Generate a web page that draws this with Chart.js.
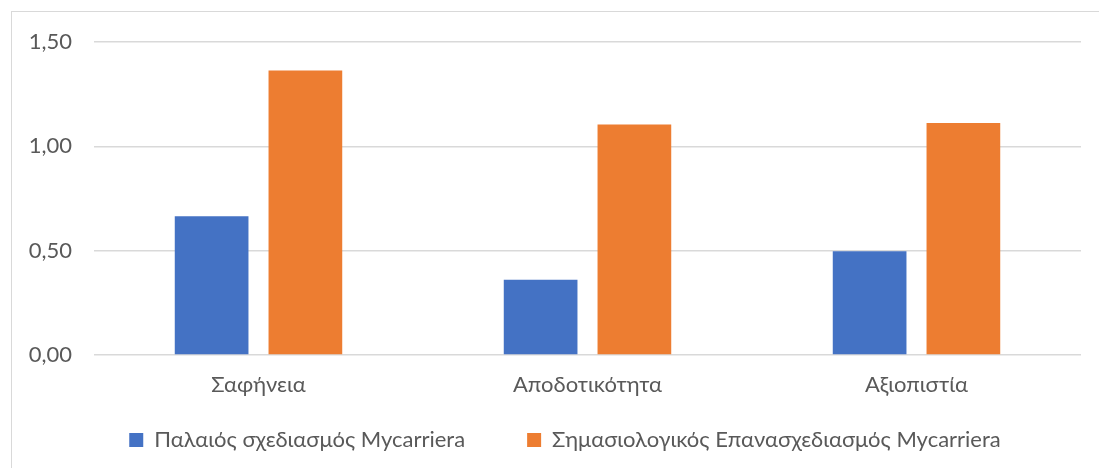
<!DOCTYPE html>
<html>
<head>
<meta charset="utf-8">
<script src="https://cdn.jsdelivr.net/npm/chart.js@4/dist/chart.umd.min.js"></script>
<style>
  html, body { margin: 0; padding: 0; background: #ffffff; }
  #wrap { position: relative; width: 1099px; height: 468px; overflow: hidden; }
  #frame { position: absolute; left: 11px; top: 11px; width: 1100px; height: 470px; border: 1.5px solid #d9d9d9; box-sizing: border-box; }
  #c { position: absolute; left: 0; top: 0; }
</style>
</head>
<body>
<div id="wrap">
  <div id="frame"></div>
  <canvas id="c" width="1099" height="468"></canvas>
</div>
<script>
const categories = ["Σαφήνεια", "Αποδοτικότητα", "Αξιοπιστία"];
const seriesNames = ["Παλαιός σχεδιασμός Mycarriera", "Σημασιολογικός Επανασχεδιασμός Mycarriera"];
const oldDesign = [0.665, 0.361, 0.497];
const redesign = [1.364, 1.105, 1.112];
const yTicks = [0, 0.5, 1.0, 1.5];

const FONT = 'Lato, "Open Sans", sans-serif';
const TEXT = '#595959';
const FS = 22;

// let tick labels draw outside their (deliberately narrow) scale boxes
const noLabelClip = {
  id: 'noLabelClip',
  beforeDraw(chart) {
    Object.values(chart.scales).forEach(s => { s._computeLabelArea = () => undefined; });
  }
};

new Chart(document.getElementById('c'), {
  type: 'bar',
  data: {
    labels: categories,
    datasets: [
      { label: seriesNames[0], data: oldDesign, backgroundColor: '#4472C4', borderWidth: 0 },
      { label: seriesNames[1], data: redesign, backgroundColor: '#ED7D31', borderWidth: 0 }
    ]
  },
  plugins: [noLabelClip],
  options: {
    responsive: false,
    animation: false,
    devicePixelRatio: 1,
    datasets: { bar: { categoryPercentage: 0.57, barPercentage: 0.786 } },
    layout: { padding: { top: 42, right: 18, left: 49, bottom: 7 } },
    plugins: {
      tooltip: { enabled: false },
      legend: {
        position: 'bottom',
        labels: {
          color: TEXT,
          font: { family: FONT, size: FS },
          boxWidth: 14,
          boxHeight: 14,
          padding: 62
        }
      }
    },
    scales: {
      x: {
        afterFit: (s) => { s.height = 12; },
        grid: { display: false, drawTicks: false },
        border: { display: false },
        ticks: { color: TEXT, font: { family: FONT, size: FS }, padding: 17 }
      },
      y: {
        min: 0, max: 1.5,
        afterFit: (s) => { s.width = 45; },
        afterBuildTicks: (s) => { s.ticks = yTicks.map(v => ({ value: v })); },
        grid: { color: '#d9d9d9', lineWidth: 1.5, drawTicks: false },
        border: { display: false },
        ticks: {
          color: TEXT,
          font: { family: FONT, size: FS },
          padding: 22,
          callback: (v) => v.toFixed(2).replace('.', ',')
        }
      }
    }
  }
});
</script>
</body>
</html>
